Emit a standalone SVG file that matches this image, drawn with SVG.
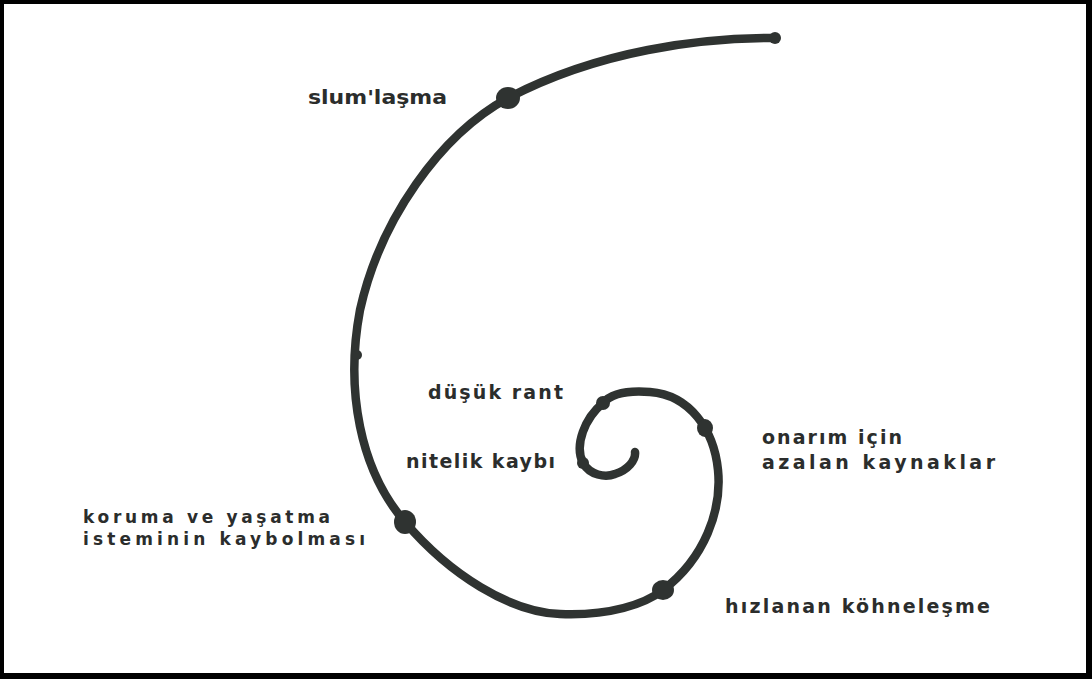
<svg xmlns="http://www.w3.org/2000/svg" width="1092" height="679" viewBox="0 0 1092 679">
<style>
.lbl{font-family:"DejaVu Sans","Liberation Sans",Arial,sans-serif;font-weight:bold;font-size:19px;fill:#2b2d2c}
.sm{font-size:17px}
.dot{fill:#2f3331}
.spiral{fill:none;stroke:#2f3331;stroke-width:8.5;stroke-linecap:round;stroke-linejoin:round}
</style>
<rect x="0" y="0" width="1092" height="679" fill="#000"/>
<rect x="4" y="4" width="1082" height="669" fill="#fff"/>
<g id="connectors">
<path class="spiral" d="M775,38 C700,38 600,50 508,98 C440,135 380,220 360,310 C345,390 360,470 405,522 C450,575 510,612 560,614 C610,616 645,604 663,590 C705,558 722,510 718,470 C714,430 690,395 650,392 C625,390 610,395 603,403 C585,418 574,445 583,463 C590,475 605,478 615,474 C628,470 636,460 635,452"/>
<circle class="dot" cx="775" cy="38" r="6"/>
<circle class="dot" cx="357" cy="355" r="5"/>
</g>
<g id="node-slum">
<ellipse class="dot" cx="508" cy="98" rx="12" ry="11"/>
<text class="lbl" x="308" y="104" textLength="139" lengthAdjust="spacingAndGlyphs">slum'laşma</text>
</g>
<g id="node-koruma">
<ellipse class="dot" cx="405" cy="522" rx="11" ry="12"/>
<text class="lbl sm" x="83" y="523" textLength="247" lengthAdjust="spacing">koruma ve yaşatma</text>
<text class="lbl sm" x="83" y="545" textLength="282" lengthAdjust="spacing">isteminin kaybolması</text>
</g>
<g id="node-hizlanan">
<ellipse class="dot" cx="663" cy="590" rx="11" ry="10"/>
<text class="lbl" x="725" y="613" textLength="265" lengthAdjust="spacing">hızlanan köhneleşme</text>
</g>
<g id="node-onarim">
<ellipse class="dot" cx="705" cy="428" rx="8" ry="9"/>
<text class="lbl" x="762" y="444" textLength="140" lengthAdjust="spacing">onarım için</text>
<text class="lbl" x="762" y="469" textLength="233" lengthAdjust="spacing">azalan kaynaklar</text>
</g>
<g id="node-dusuk">
<circle class="dot" cx="603" cy="403" r="7"/>
<text class="lbl" x="428" y="399" textLength="135" lengthAdjust="spacing">düşük rant</text>
</g>
<g id="node-nitelik">
<circle class="dot" cx="583" cy="463" r="6"/>
<text class="lbl" x="406" y="468" textLength="149" lengthAdjust="spacing">nitelik kaybı</text>
</g>
</svg>
